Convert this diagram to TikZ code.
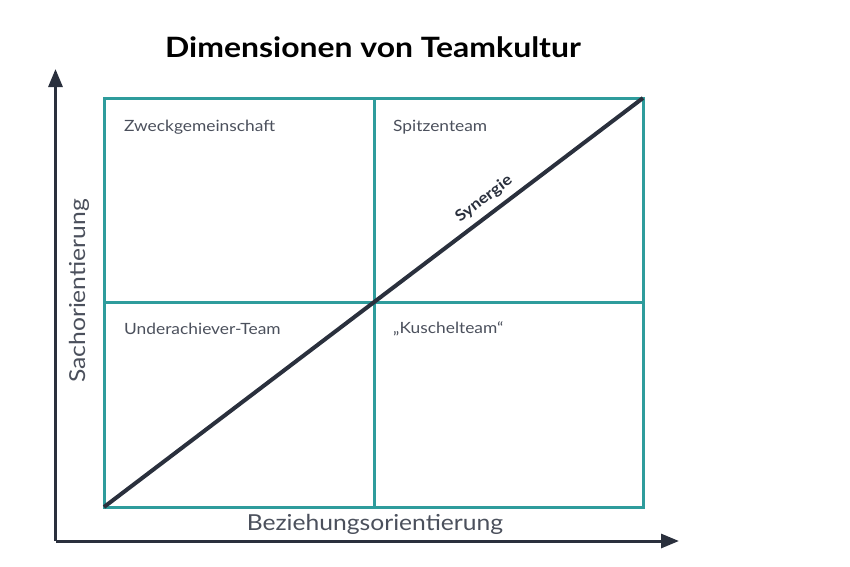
\documentclass[tikz,border=0pt]{standalone}
\usepackage{fontspec}
\setmainfont{Lato}
\newfontfamily\labelfont{Lato}[FakeStretch=1.12]
\newfontfamily\titlefont{Lato}[FakeStretch=1.14]
\usetikzlibrary{arrows.meta}
\definecolor{teal}{HTML}{2E9C9C}
\definecolor{navy}{HTML}{2A303D}
\definecolor{textgrey}{HTML}{4B505C}
\tikzset{
  grid/.style={draw=teal, line width=3pt},
  axis/.style={draw=navy, line width=3pt, -{Triangle[length=18pt,width=14pt]}},
  cell/.style={anchor=west, text=textgrey, font=\labelfont\fontsize{15.5}{18}\selectfont, inner sep=0pt},
  axislabel/.style={text=textgrey, font=\labelfont\fontsize{22}{26}\selectfont, inner sep=0pt},
}
\begin{document}
\begin{tikzpicture}[x=1pt,y=-1pt]
	\useasboundingbox (0,0) rectangle (850,566);
	\def\xl{104}
	\def\xm{374}
	\def\xr{643}
	\def\yt{98}
	\def\ym{302}
	\def\yb{507}
	\coordinate (sw) at (\xl,\yb);
	\coordinate (ne) at (\xr,\yt);
	\coordinate (origin) at (55.5,541);
	\coordinate (ytip) at (55.5,69);
	\coordinate (xtip) at (679,541);
	\draw[grid] (\xl,\yt) rectangle (\xr,\yb);
	\draw[grid] (\xm,\yt) -- (\xm,\yb);
	\draw[grid] (\xl,\ym) -- (\xr,\ym);
	\draw[navy, line width=4pt] (sw) -- (ne);
	\draw[axis] (origin) -- (ytip);
	\draw[axis] (origin) -- (xtip);
	\node[font=\titlefont\bfseries\fontsize{28}{32}\selectfont, text=black] (title) at (373,47) {Dimensionen von Teamkultur};
	\node[cell] (zweck) at (124,127) {Zweckgemeinschaft};
	\node[cell] (spitze) at (393,127) {Spitzenteam};
	\node[cell] (under) at (124,329) {Underachiever-Team};
	\node[cell] (kuschel) at (393,329) {„Kuschelteam“};
	\node[axislabel] (bez) at (375,524) {Beziehungsorientierung};
	\node[axislabel, rotate=90] (sach) at (79,291) {Sachorientierung};
	\node[font=\labelfont\bfseries\fontsize{15.5}{18}\selectfont, text=navy, rotate=37.2] (syn) at (484,199) {Synergie};
\end{tikzpicture}
\end{document}
